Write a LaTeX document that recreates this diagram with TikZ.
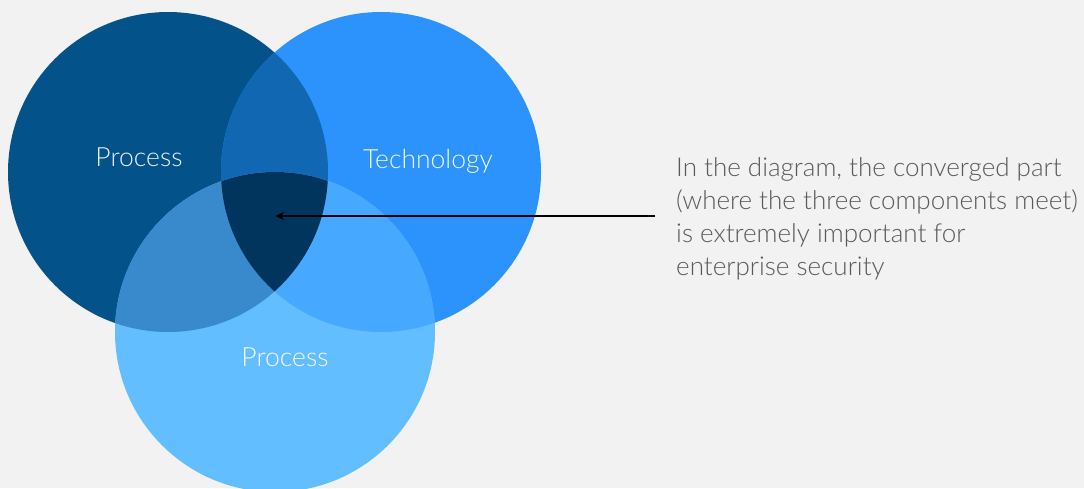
\documentclass[tikz,border=0pt]{standalone}
\usepackage{fontspec}
\setmainfont{Lato Light}
\usetikzlibrary{arrows.meta}
\definecolor{bg}{HTML}{F2F2F2}
\definecolor{cL}{HTML}{03528A}
\definecolor{cR}{HTML}{2D93FC}
\definecolor{cB}{HTML}{62BEFF}
\definecolor{cLR}{HTML}{1167B1}
\definecolor{cLB}{HTML}{398ACD}
\definecolor{cRB}{HTML}{46A8FE}
\definecolor{cLRB}{HTML}{02355E}
\definecolor{note}{HTML}{595959}
\tikzset{
  setlabel/.style={text=white, text opacity=0.92, font=\fontsize{26.5}{30}\selectfont, inner sep=0pt},
  notetext/.style={text=note, align=left, anchor=north west, inner sep=0pt,
    font=\fontsize{26}{33}\selectfont},
  pointer/.style={draw=black, line width=1.3pt, -{Stealth[length=9pt,width=8pt]}}
}
\begin{document}
\begin{tikzpicture}[x=1pt,y=-1pt]
  \fill[bg] (0,0) rectangle (1084,488);
  \useasboundingbox (0,0) rectangle (1084,488);
  % the three sets
  \def\setL{(168,172) circle (160)}
  \def\setR{(381,172) circle (160)}
  \def\setB{(275,332) circle (160)}
  \fill[cL] \setL;
  \fill[cR] \setR;
  \fill[cB] \setB;
  % pairwise overlaps
  \begin{scope}\clip \setL; \fill[cLR] \setR; \end{scope}
  \begin{scope}\clip \setL; \fill[cLB] \setB; \end{scope}
  \begin{scope}\clip \setR; \fill[cRB] \setB; \end{scope}
  % common core
  \begin{scope}\clip \setL; \clip \setR; \fill[cLRB] \setB; \end{scope}
  % labels
  \node[setlabel] (process1) at (139,157) {Process};
  \node[setlabel] (technology) at (428,161) {Technology};
  \node[setlabel] (process2) at (285,357) {Process};
  % explanatory note and its pointer
  \node[notetext] (explain) at (676,157) {In the diagram, the converged part\\(where the three components meet)\\is extremely important for\\enterprise security};
  \coordinate (tail) at (655,216);
  \coordinate (core) at (275,216);
  \draw[pointer] (tail) -- (core);
\end{tikzpicture}
\end{document}
